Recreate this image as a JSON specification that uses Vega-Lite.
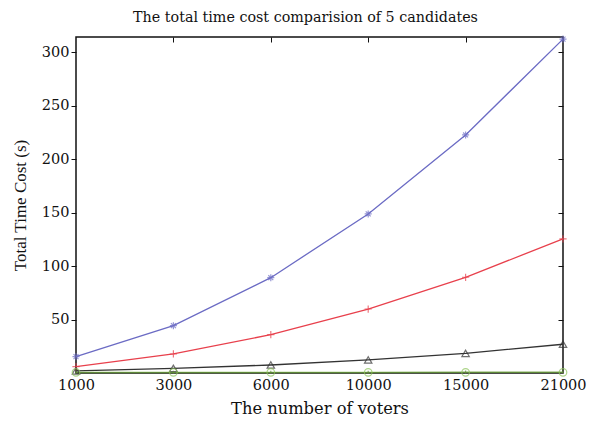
{
  "$schema": "https://vega.github.io/schema/vega-lite/v6.json",
  "autosize": "none",
  "width": 487,
  "height": 336,
  "padding": {"left": 76, "top": 37, "right": 26, "bottom": 48},
  "background": "white",
  "title": {"text": "The total time cost comparision of 5 candidates", "font": "DejaVu Serif", "fontSize": 14.3, "fontWeight": "normal", "color": "#111", "offset": 8, "dx": -14},
  "data": {"values": [
    {"voters": "1000", "series": "A", "cost": 15.3},
    {"voters": "3000", "series": "A", "cost": 44.3},
    {"voters": "6000", "series": "A", "cost": 89.2},
    {"voters": "10000", "series": "A", "cost": 148.9},
    {"voters": "15000", "series": "A", "cost": 222.8},
    {"voters": "21000", "series": "A", "cost": 312.5},
    {"voters": "1000", "series": "B", "cost": 5.9},
    {"voters": "3000", "series": "B", "cost": 17.8},
    {"voters": "6000", "series": "B", "cost": 35.9},
    {"voters": "10000", "series": "B", "cost": 59.9},
    {"voters": "15000", "series": "B", "cost": 89.6},
    {"voters": "21000", "series": "B", "cost": 125.5},
    {"voters": "1000", "series": "C", "cost": 2.0},
    {"voters": "3000", "series": "C", "cost": 4.4},
    {"voters": "6000", "series": "C", "cost": 7.5},
    {"voters": "10000", "series": "C", "cost": 12.2},
    {"voters": "15000", "series": "C", "cost": 18.4},
    {"voters": "21000", "series": "C", "cost": 26.9},
    {"voters": "1000", "series": "D", "cost": 0.6},
    {"voters": "3000", "series": "D", "cost": 0.6},
    {"voters": "6000", "series": "D", "cost": 0.6},
    {"voters": "10000", "series": "D", "cost": 0.6},
    {"voters": "15000", "series": "D", "cost": 0.6},
    {"voters": "21000", "series": "D", "cost": 0.6},
    {"voters": "1000", "series": "E", "cost": 0.4},
    {"voters": "3000", "series": "E", "cost": 0.4},
    {"voters": "6000", "series": "E", "cost": 0.4},
    {"voters": "10000", "series": "E", "cost": 0.4},
    {"voters": "15000", "series": "E", "cost": 0.5},
    {"voters": "21000", "series": "E", "cost": 0.6}
  ]},
  "encoding": {
    "x": {"field": "voters", "type": "ordinal", "sort": ["1000", "3000", "6000", "10000", "15000", "21000"], "scale": {"type": "point", "padding": 0}},
    "y": {"field": "cost", "type": "quantitative", "scale": {"domain": [0, 314.5], "nice": false}},
    "color": {"field": "series", "type": "nominal", "legend": null, "scale": {"domain": ["A", "B", "C", "D", "E"], "range": ["#6b6bc4", "#e8404c", "#333333", "#8cc45a", "#5f8a3a"]}}
  },
  "layer": [
    {
      "mark": {"type": "line", "strokeWidth": 1.3},
      "encoding": {
        "x": {"field": "voters", "type": "ordinal", "sort": ["1000", "3000", "6000", "10000", "15000", "21000"], "scale": {"type": "point", "padding": 0}, "axis": {"title": "The number of voters", "titleFontSize": 16.3, "labelAngle": 0, "tickSize": 0, "labelPadding": 5, "titlePadding": 9, "domain": false}},
        "y": {"field": "cost", "type": "quantitative", "scale": {"domain": [0, 314.5], "nice": false}, "axis": {"title": "Total Time Cost (s)", "titleFont": "Liberation Serif", "titleFontSize": 17, "values": [50, 100, 150, 200, 250, 300], "tickSize": 5, "domain": false, "titlePadding": 12}}
      }
    },
    {
      "mark": {"type": "point", "filled": false, "strokeWidth": 1.2},
      "encoding": {
        "shape": {"field": "series", "type": "nominal", "legend": null, "scale": {"domain": ["A", "B", "C", "D", "E"], "range": [
          "M-1,0L1,0M0,-1L0,1M-0.7,-0.7L0.7,0.7M-0.7,0.7L0.7,-0.7",
          "M-1,0L1,0M0,-1L0,1",
          "triangle-up",
          "circle",
          "M0,-0.5L0,0.3"
        ]}},
        "size": {"field": "series", "type": "nominal", "legend": null, "scale": {"domain": ["A", "B", "C", "D", "E"], "range": [50, 60, 70, 70, 40]}},
        "x": {"field": "voters", "type": "ordinal", "sort": ["1000", "3000", "6000", "10000", "15000", "21000"], "scale": {"type": "point", "padding": 0}, "axis": {"orient": "top", "labels": false, "title": null, "tickSize": -5, "domain": false, "values": ["3000", "6000", "10000", "15000"]}},
        "y": {"field": "cost", "type": "quantitative", "scale": {"domain": [0, 314.5], "nice": false}, "axis": {"orient": "right", "labels": false, "title": null, "tickSize": -5, "domain": false, "values": [50, 100, 150, 200, 250, 300]}}
      }
    }
  ],
  "resolve": {"axis": {"x": "independent", "y": "independent"}},
  "config": {
    "view": {"stroke": "#111", "strokeWidth": 1.5},
    "axis": {"grid": false, "labelFont": "DejaVu Serif", "titleFont": "DejaVu Serif", "labelFontSize": 14.5, "titleFontSize": 15, "titleFontWeight": "normal", "labelColor": "#111", "titleColor": "#111", "tickColor": "#111"}
  }
}
